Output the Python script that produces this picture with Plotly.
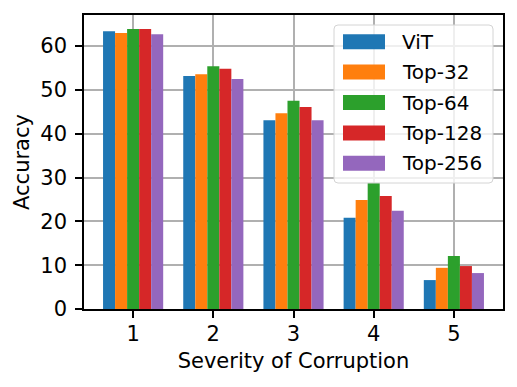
import plotly.graph_objects as go

# data
severity = [1, 2, 3, 4, 5]
series_names = ["ViT", "Top-32", "Top-64", "Top-128", "Top-256"]
vit = [63.4, 53.2, 43.1, 20.8, 6.6]
top32 = [63.0, 53.6, 44.7, 24.9, 9.4]
top64 = [63.9, 55.4, 47.5, 28.8, 12.1]
top128 = [63.9, 54.8, 46.1, 25.8, 9.8]
top256 = [62.7, 52.5, 43.1, 22.4, 8.2]

colors = ["#1f77b4", "#ff7f0e", "#2ca02c", "#d62728", "#9467bd"]
FONT = "DejaVu Sans"
FS = 21

# the page body has an 8px margin, so the figure is 8px smaller and shifted
OFF = 8
W, H = 517 - OFF, 387 - OFF
L, R, T, B = 84 - OFF, 503 - OFF, 15 - OFF, 309 - OFF


def px_x(p):
    return (p - OFF - L) / (R - L)


def px_y(p):
    return (B - (p - OFF)) / (B - T)


fig = go.Figure()
for name, vals, col in zip(series_names, [vit, top32, top64, top128, top256], colors):
    fig.add_trace(go.Bar(x=severity, y=vals, name=name, marker_color=col,
                         marker_line_width=0, showlegend=False))

ymax = max(max(v) for v in [vit, top32, top64, top128, top256]) * 1.05

axis_style = dict(
    showline=True, linecolor="black", linewidth=1.6, mirror=True,
    ticks="outside", ticklen=7, tickwidth=1.6, tickcolor="black",
    showgrid=True, gridcolor="#b0b0b0", gridwidth=1.6,
    layer="above traces", zeroline=False, automargin=False,
    tickfont=dict(family=FONT, size=FS, color="black"),
)

fig.update_layout(
    width=W, height=H,
    margin=dict(l=L, r=W - R, t=T, b=H - B),
    paper_bgcolor="white", plot_bgcolor="white",
    barmode="group", bargap=0.25, bargroupgap=0,
    font=dict(family=FONT, size=FS, color="black"),
    xaxis=dict(axis_style, range=[0.3875, 5.6125], tickvals=severity,
               ticklabelstandoff=-2,
               title=dict(text="Severity of Corruption", standoff=8,
                          font=dict(family=FONT, size=FS))),
    yaxis=dict(axis_style, range=[0, ymax], tickvals=[0, 10, 20, 30, 40, 50, 60],
               ticklabelstandoff=4,
               title=dict(text="Accuracy", standoff=5,
                          font=dict(family=FONT, size=FS))),
)

# legend drawn like matplotlib's (wide patches, rounded frame)
x0, x1, y0, y1 = px_x(334), px_x(493), px_y(25), px_y(183)
rx, ry = 4 / (R - L), 4 / (B - T)
path = (f"M {x0 + rx},{y0} L {x1 - rx},{y0} Q {x1},{y0} {x1},{y0 - ry} "
        f"L {x1},{y1 + ry} Q {x1},{y1} {x1 - rx},{y1} L {x0 + rx},{y1} "
        f"Q {x0},{y1} {x0},{y1 + ry} L {x0},{y0 - ry} Q {x0},{y0} {x0 + rx},{y0} Z")
fig.add_shape(type="path", path=path, xref="paper", yref="paper",
              fillcolor="rgba(255,255,255,0.8)", line=dict(color="#d4d4d4", width=1),
              layer="above")
row_y = [41.7, 72.1, 102.5, 132.9, 163.3]
for name, col, cy in zip(series_names, colors, row_y):
    fig.add_shape(type="rect", xref="paper", yref="paper",
                  x0=px_x(343), x1=px_x(385), y0=px_y(cy - 7.5), y1=px_y(cy + 7.5),
                  fillcolor=col, line_width=0, layer="above")
    fig.add_annotation(text=name, xref="paper", yref="paper", x=px_x(400), y=px_y(cy),
                       xanchor="left", yanchor="middle", showarrow=False,
                       font=dict(family=FONT, size=20, color="black"))

fig.write_html("out.html")
